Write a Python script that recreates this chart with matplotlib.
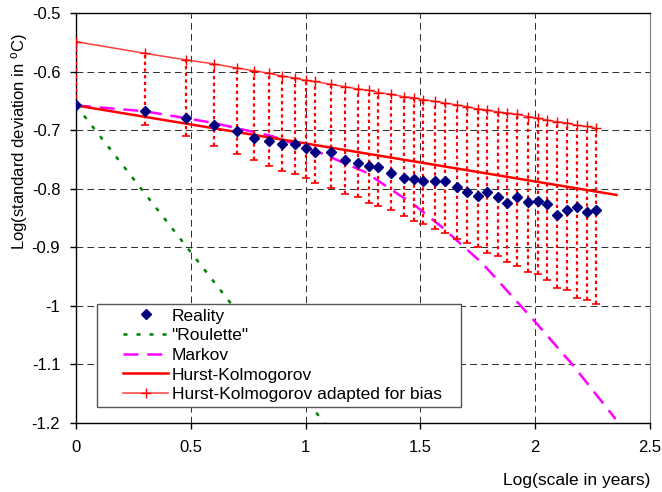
import matplotlib
matplotlib.use('Agg')
import matplotlib.pyplot as plt
from matplotlib.patches import Rectangle
from matplotlib.ticker import FuncFormatter, MultipleLocator

plt.rcParams['font.family'] = ['Liberation Sans', 'DejaVu Sans']
plt.rcParams['axes.unicode_minus'] = False
plt.rcParams['mathtext.fontset'] = 'custom'
plt.rcParams['mathtext.rm'] = 'Liberation Sans'
plt.rcParams['mathtext.it'] = 'Liberation Sans:italic'

# log10 of scale (years)
log_scale = [0.000, 0.301, 0.477, 0.600, 0.700, 0.777, 0.842, 0.898, 0.952, 1.000,
             1.039, 1.111, 1.173, 1.228, 1.275, 1.317, 1.372, 1.427, 1.474, 1.512,
             1.564, 1.607, 1.659, 1.701, 1.750, 1.792, 1.838, 1.877, 1.921, 1.968,
             2.012, 2.052, 2.096, 2.139, 2.181, 2.224, 2.263]

reality = [-0.658, -0.667, -0.679, -0.692, -0.701, -0.714, -0.718, -0.724, -0.724, -0.731,
           -0.737, -0.738, -0.752, -0.757, -0.761, -0.763, -0.774, -0.782, -0.784, -0.788,
           -0.788, -0.788, -0.798, -0.806, -0.812, -0.806, -0.814, -0.825, -0.814, -0.823,
           -0.821, -0.827, -0.845, -0.836, -0.832, -0.841, -0.836]

# HK adapted for bias (top of the dotted bars) and lower end of the bars
hk_bias = [-0.549, -0.569, -0.580, -0.587, -0.594, -0.599, -0.603, -0.608, -0.611, -0.615,
           -0.617, -0.622, -0.626, -0.630, -0.632, -0.636, -0.639, -0.643, -0.645, -0.648,
           -0.651, -0.654, -0.657, -0.660, -0.664, -0.666, -0.669, -0.671, -0.673, -0.677,
           -0.680, -0.683, -0.686, -0.688, -0.692, -0.694, -0.697]
hk_low = [-0.658, -0.691, -0.711, -0.728, -0.741, -0.751, -0.761, -0.770, -0.776, -0.782,
          -0.790, -0.799, -0.809, -0.814, -0.825, -0.830, -0.837, -0.847, -0.855, -0.861,
          -0.870, -0.876, -0.886, -0.893, -0.900, -0.910, -0.916, -0.926, -0.933, -0.943,
          -0.947, -0.956, -0.970, -0.974, -0.987, -0.990, -0.997]

roulette_x = [0.0, 1.1]
roulette_y = [-0.658, -1.210]

markov_x = [0.0, 0.3, 0.6, 0.85, 1.07, 1.26, 1.48, 1.6, 1.77, 2.0, 2.16, 2.35]
markov_y = [-0.658, -0.668, -0.688, -0.710, -0.740, -0.772, -0.830, -0.868, -0.928, -1.028, -1.100, -1.194]

hk_x = [0.0, 2.354]
hk_y = [-0.658, -0.811]

fig = plt.figure(figsize=(6.62, 4.92), dpi=100)
ax = fig.add_axes([76/662, 1-422.5/492, 574/662, 409.5/492])

ax.grid(True, color='#333333', linestyle=(0, (6.5, 4)), linewidth=0.75, zorder=0)
ax.set_axisbelow(True)

ax.plot(roulette_x, roulette_y, color='#008000', lw=1.8, linestyle=(0, (1.6, 3.6)),
        label='"Roulette"', zorder=2)
ax.plot(markov_x, markov_y, color='#ff00ff', lw=1.8, linestyle=(0, (6, 3.5)),
        label='Markov', zorder=2)

# dotted bars
ax.vlines(log_scale, hk_low, hk_bias, colors='red', linestyles=(0, (1.5, 1.5)), lw=1.6, zorder=3)
ax.plot(log_scale, hk_low, ls='none', marker='_', ms=6, mew=1.2, color='red', zorder=3)

ax.plot(hk_x, hk_y, color='red', lw=1.8, label='Hurst-Kolmogorov', zorder=3)
ax.plot(log_scale, hk_bias, color='#ff4040', lw=1.1, marker='+', ms=7, mew=1.0,
        mec='red', label='Hurst-Kolmogorov adapted for bias', zorder=3)
ax.plot(log_scale, reality, ls='none', marker='D', ms=5, color='#000080',
        label='Reality', zorder=4)

ax.set_xlim(0, 2.5)
ax.set_ylim(-1.2, -0.5)
ax.xaxis.set_major_locator(MultipleLocator(0.5))
ax.yaxis.set_major_locator(MultipleLocator(0.1))
fmt = FuncFormatter(lambda v, p: '%g' % round(v, 2))
ax.xaxis.set_major_formatter(fmt)
ax.yaxis.set_major_formatter(fmt)
ax.tick_params(direction='out', length=4.3, width=1, labelsize=12, colors='black')
ax.tick_params(axis='x', pad=8)
ax.tick_params(axis='y', pad=7)

for s in ['left', 'bottom', 'top']:
    ax.spines[s].set_color('black')
    ax.spines[s].set_linewidth(1)
ax.spines['right'].set_color('#808080')

ax.set_xlabel('Log(scale in years)', fontsize=12.5, ha='right', va='center')
ax.xaxis.set_label_coords(1.0, -0.142)
ax.set_ylabel(r'Log(standard deviation in $^{\rm o}$C)', fontsize=12, va='center')
ax.yaxis.set_label_coords(-0.0976, 0.685)

# legend box
ax.add_patch(Rectangle((0.0366, 0.0367), 0.634, 0.2518, transform=ax.transAxes,
                       fc='white', ec='#555555', lw=1, zorder=4.9))
h, l = ax.get_legend_handles_labels()
order = ['Reality', '"Roulette"', 'Markov', 'Hurst-Kolmogorov', 'Hurst-Kolmogorov adapted for bias']
hd = dict(zip(l, h))
leg = ax.legend([hd[k] for k in order], order, loc='upper left',
                bbox_to_anchor=(0.0819, 0.2787), frameon=False, borderpad=0,
                borderaxespad=0, handlelength=2.6, handletextpad=0.2,
                labelspacing=0.26, fontsize=12.5, numpoints=1)
leg.set_zorder(5)

fig.savefig('out.png', dpi=100)
